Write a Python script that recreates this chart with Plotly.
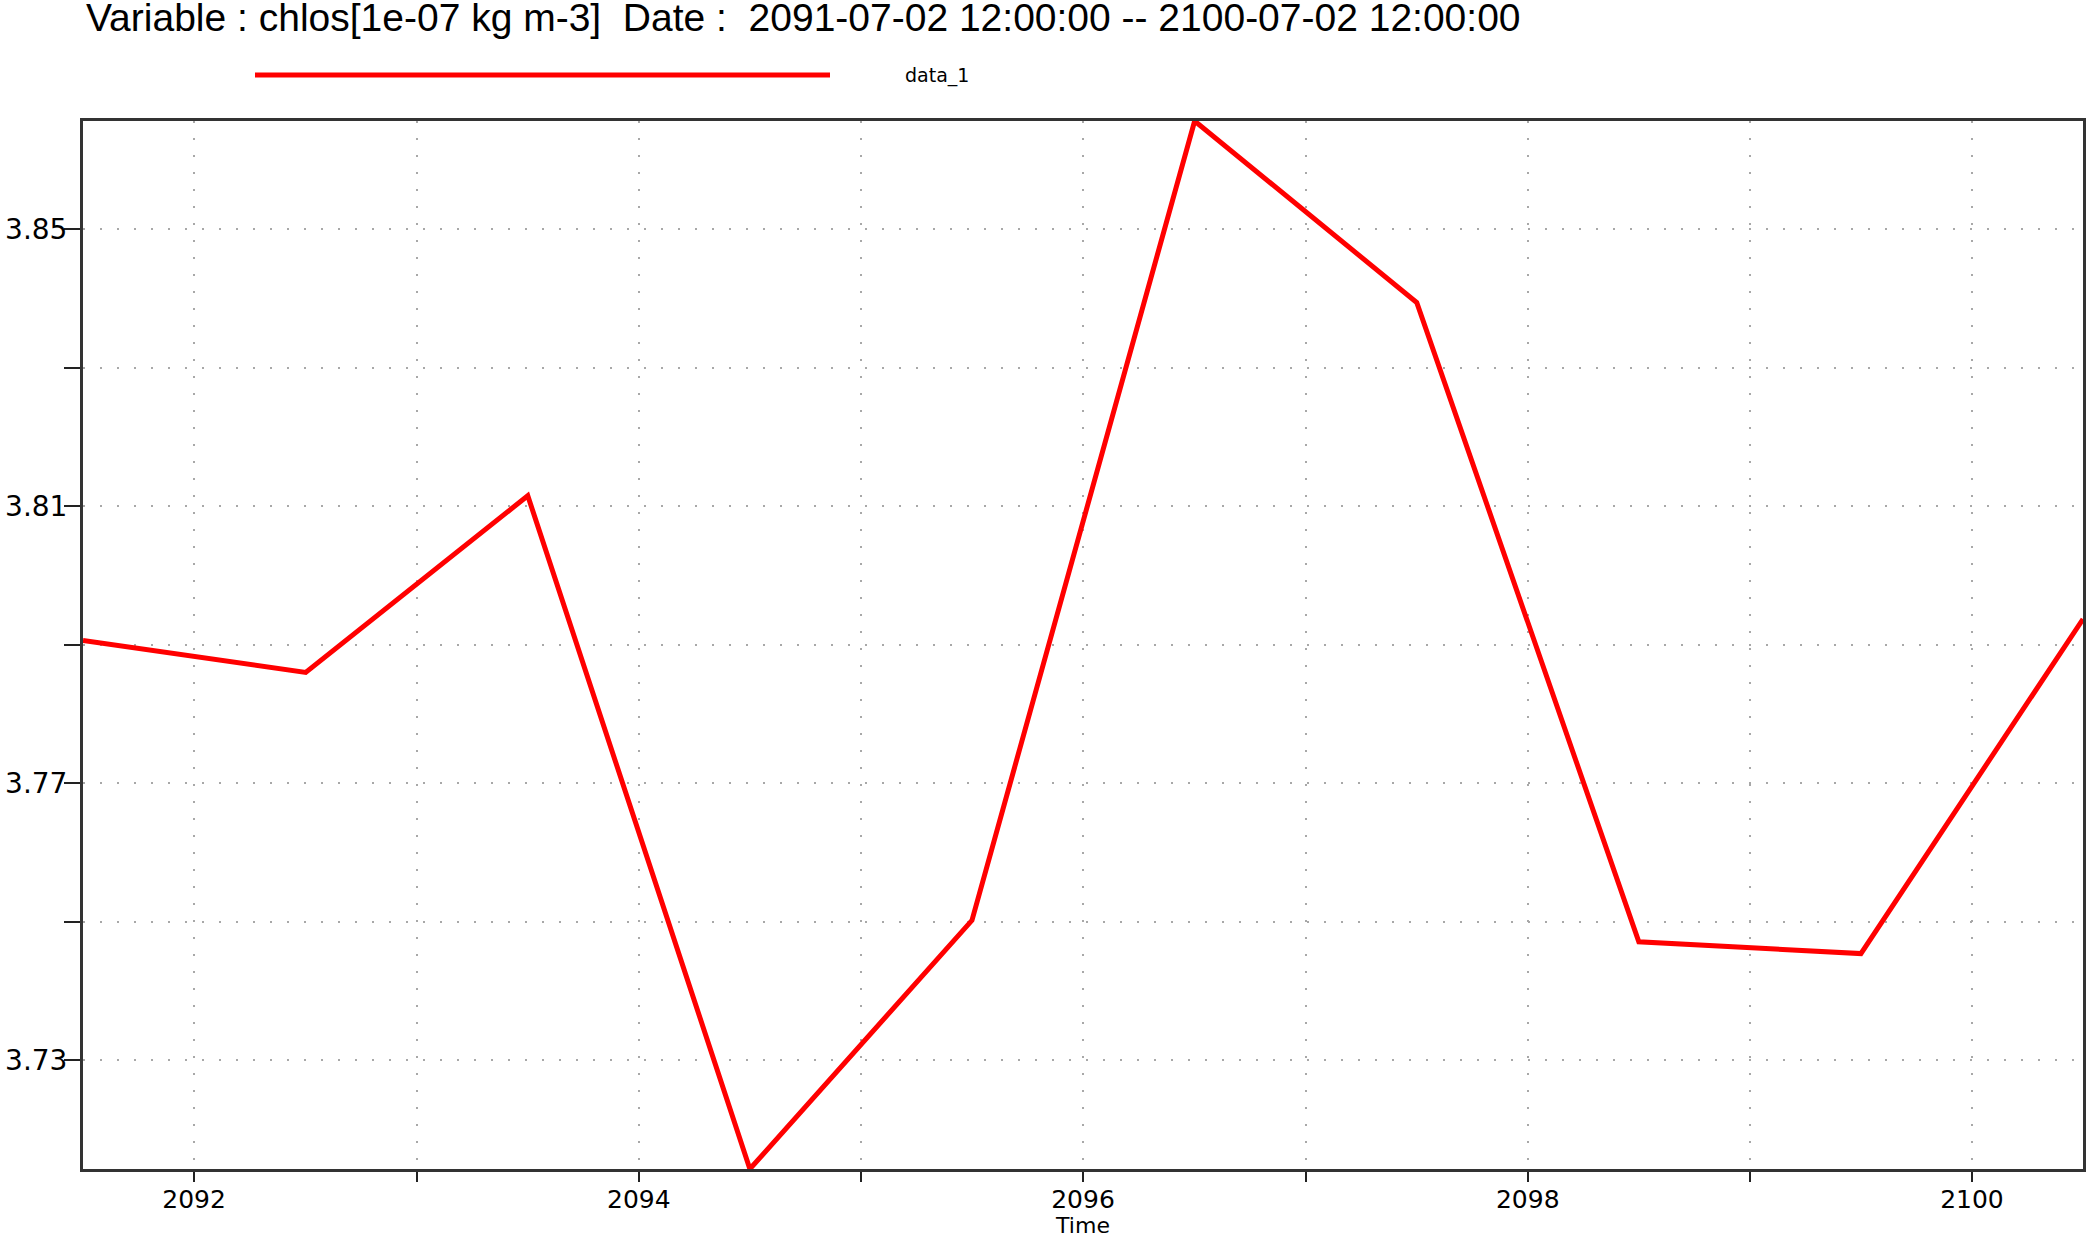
import plotly.graph_objects as go

# ---- data ----
dates = [
    "2091-07-02 12:00:00", "2092-07-02 12:00:00", "2093-07-02 12:00:00",
    "2094-07-02 12:00:00", "2095-07-02 12:00:00", "2096-07-02 12:00:00",
    "2097-07-02 12:00:00", "2098-07-02 12:00:00", "2099-07-02 12:00:00",
    "2100-07-02 12:00:00",
]
chlos = [3.7906, 3.7860, 3.8115, 3.7143, 3.7502, 3.8656, 3.8394, 3.7471, 3.7454, 3.7937]
series_name = "data_1"
title_text = "Variable : chlos[1e-07 kg m-3]  Date :  2091-07-02 12:00:00 -- 2100-07-02 12:00:00"
x_title = "Time"

W, H = 2086, 1238
L, R, T, B = 83, 3, 121, 69
pw, ph = W - L - R, H - T - B

fig = go.Figure()
fig.add_trace(go.Scatter(
    x=dates, y=chlos, mode="lines", name=series_name,
    line=dict(color="#ff0000", width=5), showlegend=False,
))

grid_dash = "2px,15px"
axis_common = dict(
    showline=True, linecolor="#333333", linewidth=3, mirror=True,
    ticks="outside", tickcolor="#222222", tickwidth=2,
    showgrid=True, gridcolor="#a8a8a8", gridwidth=2, griddash=grid_dash,
    zeroline=False, automargin=False,
    tickfont=dict(family="DejaVu Sans", color="#000000"),
)

fig.update_xaxes(
    **axis_common,
    type="date",
    range=[dates[0], dates[-1]],
    tick0="2092-01-01", dtick="M24", tickformat="%Y", ticklen=10,
    ticklabelstandoff=-4,
    minor=dict(tick0="2092-01-01", dtick="M12", ticks="outside", ticklen=10,
               tickwidth=2, tickcolor="#222222",
               showgrid=True, gridcolor="#a8a8a8", gridwidth=2, griddash=grid_dash),
    title=dict(text=x_title, font=dict(family="DejaVu Sans", size=22, color="#000000"), standoff=10),
)
fig.update_xaxes(tickfont_size=25)

fig.update_yaxes(
    **axis_common,
    range=[min(chlos), max(chlos)],
    tick0=3.73, dtick=0.04, tickformat=".2f", ticklen=16,
    ticklabelstandoff=-9,
    minor=dict(tick0=3.73, dtick=0.02, ticks="outside", ticklen=16,
               tickwidth=2, tickcolor="#222222",
               showgrid=True, gridcolor="#a8a8a8", gridwidth=2, griddash=grid_dash),
)
fig.update_yaxes(tickfont_size=28)

# legend drawn as a long line sample + label (matches original look)
leg_y = (H - B - 75) / ph
fig.add_shape(type="line", xref="paper", yref="paper",
              x0=(255 - L) / pw, x1=(830 - L) / pw, y0=leg_y, y1=leg_y,
              line=dict(color="#ff0000", width=5))
fig.add_annotation(xref="paper", yref="paper", x=(903 - L) / pw, y=leg_y,
                   xanchor="left", yanchor="middle", showarrow=False,
                   text=series_name, font=dict(family="DejaVu Sans", size=19, color="#000000"))

fig.update_layout(
    width=W, height=H,
    margin=dict(l=L, r=R, t=T, b=B, pad=0, autoexpand=False),
    paper_bgcolor="white", plot_bgcolor="white",
    title=dict(text=title_text, x=86 / W, xanchor="left", xref="container",
               y=1 - 17 / H, yanchor="middle", yref="container", automargin=False,
               font=dict(family="Liberation Sans", size=39, color="#000000")),
    showlegend=False,
)

fig.write_html("out.html", config={"displayModeBar": False},
               post_script="document.body.style.margin='0';")
